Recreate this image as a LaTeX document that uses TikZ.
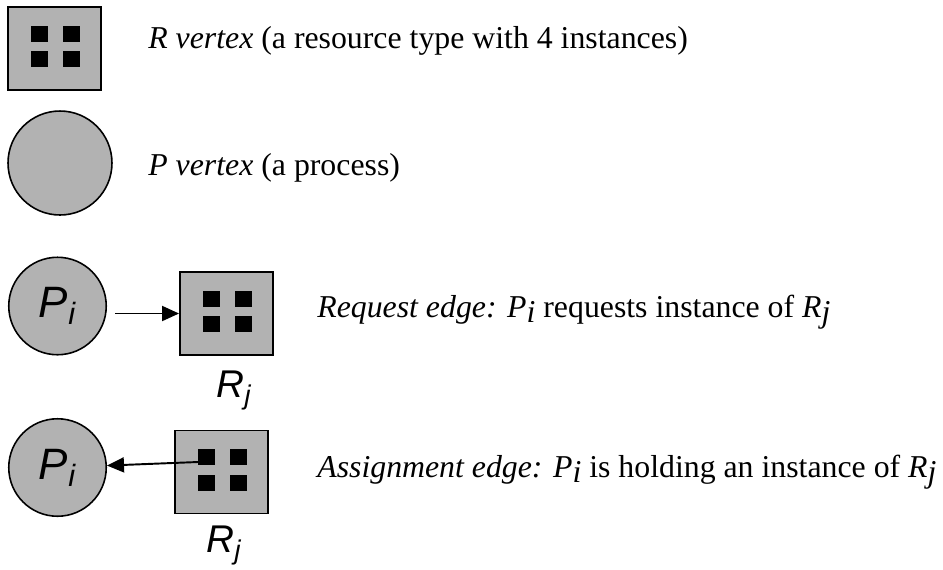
\documentclass[tikz,border=0pt]{standalone}
\usepackage{fontspec}
\setmainfont{Liberation Serif}
\setsansfont{Liberation Sans}
\usetikzlibrary{arrows.meta,calc}

\newcommand{\lowsub}[2]{\textit{#1}\raisebox{-0.35ex}{\textit{#2}}}

\tikzset{
  rvert/.style={draw, line width=1.1pt, fill=gray!60, minimum width=1.86cm, minimum height=1.66cm, inner sep=0pt},
  pvert/.style={draw, line width=0.9pt, fill=gray!60, circle, minimum size=1.95cm, inner sep=0pt,
    font=\sffamily\itshape\fontsize{25}{25}\selectfont},
  lbl/.style={anchor=base west, inner sep=0pt, font=\fontsize{18.1}{21}\selectfont},
  rlbl/.style={anchor=base, inner sep=0pt, font=\sffamily\itshape\fontsize{22}{22}\selectfont},
  edge/.style={line width=1.1pt, -{Triangle[length=0.34cm,width=0.3cm]}}
}

\begin{document}
\begin{tikzpicture}[x=0.02cm,y=-0.02cm]
	\useasboundingbox (0,0) rectangle (943,569);

            \node[rvert] (r1) at (54.5,48.5) {};
            \node[lbl] (t1) at (148,48) {\textit{R vertex} (a resource type with 4 instances)};

            \node[pvert, minimum size=2.08cm] (p2) at (60,163) {};
            \node[lbl] (t2) at (148,175) {\textit{P vertex} (a process)};

            \node[pvert] (p3) at (57.5,306) {P\textsubscript{i}};
            \node[rvert] (r3) at (226.5,313.5) {};
            \node[rlbl] (j3) at (234,397) {R\textsubscript{j}};
            \node[lbl] (t3) at (317,317) {\textit{Request edge:} \lowsub{P}{i} requests instance of \lowsub{R}{j}};

            \node[pvert] (p4) at (57.5,467.5) {P\textsubscript{i}};
            \node[rvert] (r4) at (221.5,472) {};
            \node[rlbl] (j4) at (224,552) {R\textsubscript{j}};
            \node[lbl] (t4) at (317,477) {\textit{Assignment edge:} \lowsub{P}{i} is holding an instance of \lowsub{R}{j}};

            % four instances in every R vertex
            \foreach \r in {r1,r3,r4}{
              \foreach \dx in {-15,17}{
                \foreach \dy in {-15,10.5}{
                  \fill ([shift={(\dx-8.5,\dy-8)}]\r.center) rectangle +(17,16);
                }
              }
            }

            \draw[edge, shorten <=0.16cm] (p3.east |- r3.west) -- (r3.west);
            \coordinate (hold) at ([shift={(-23.5,-10)}]r4.center);
            \draw[edge] (hold) -- (p4);

        \end{tikzpicture}
\end{document}
